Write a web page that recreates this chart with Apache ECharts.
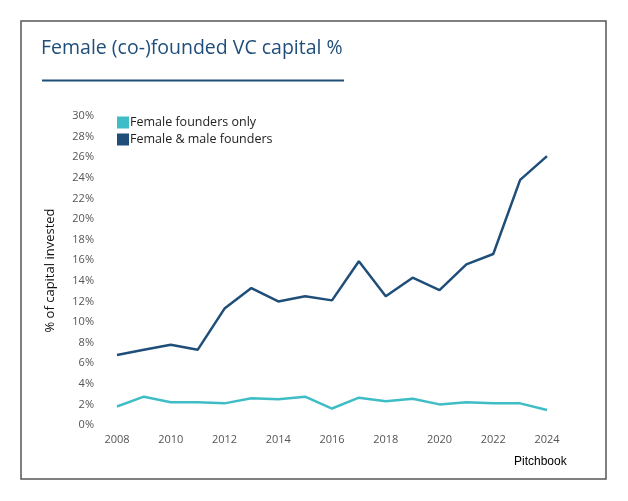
<!DOCTYPE html>
<html><head><meta charset="utf-8">
<script src="https://cdn.jsdelivr.net/npm/echarts@6/dist/echarts.min.js"></script>
<style>html,body{margin:0;padding:0;background:#fff}#c{width:628px;height:501px}</style>
</head><body><div id="c"></div>
<script>
var years = ['2008','2009','2010','2011','2012','2013','2014','2015','2016','2017','2018','2019','2020','2021','2022','2023','2024'];
var femaleOnly = [1.8,2.75,2.2,2.2,2.1,2.6,2.5,2.75,1.6,2.65,2.3,2.55,2.0,2.2,2.1,2.1,1.45];
var mixed = [6.8,7.3,7.8,7.3,11.3,13.3,12.0,12.5,12.1,15.9,12.5,14.3,13.1,15.6,16.6,23.8,26.1];
var yTicks = [0,30,2];
var chart = echarts.init(document.getElementById('c'));
var font = 'Open Sans';
chart.setOption({
  animation:false,
  title:{text:'Female (co-)founded VC capital %',left:36,top:33,textStyle:{fontFamily:font,fontSize:19.5,fontWeight:'normal',color:'#1f4e79'}},
  graphic:[
    {type:'rect',shape:{x:21,y:21,width:585,height:458},style:{fill:'none',stroke:'#555',lineWidth:1.5}},
    {type:'line',shape:{x1:42,y1:80.5,x2:344,y2:80.5},style:{stroke:'#1f4e79',lineWidth:2}},
    {type:'text',left:514,top:456,style:{text:'Pitchbook',font:'12px "Liberation Sans"',fill:'#000'}}
  ],
  legend:{left:112,top:111,orient:'vertical',itemWidth:12,itemHeight:12,itemGap:4,icon:'rect',
    textStyle:{fontFamily:font,fontSize:12.5,color:'#222',padding:[0,0,0,-4]},
    data:['Female founders only','Female & male founders']},
  grid:{left:117,right:81,top:116,bottom:76},
  xAxis:{type:'category',data:years,boundaryGap:false,axisLine:{show:false},axisTick:{show:false},
    axisLabel:{interval:1,fontFamily:font,fontSize:11,color:'#555',margin:9}},
  yAxis:{type:'value',min:yTicks[0],max:yTicks[1],interval:yTicks[2],splitLine:{show:false},
    axisLabel:{formatter:'{value}%',fontFamily:font,fontSize:11,color:'#555',margin:23},
    name:'% of capital invested',nameLocation:'middle',nameGap:60,nameRotate:90,
    nameTextStyle:{fontFamily:font,fontSize:13,color:'#111'}},
  series:[
    {name:'Female founders only',type:'line',data:femaleOnly,symbol:'none',lineStyle:{width:2.5,color:'#3fbdc6'},itemStyle:{color:'#3fbdc6'}},
    {name:'Female & male founders',type:'line',data:mixed,symbol:'none',lineStyle:{width:2.5,color:'#1f4e79'},itemStyle:{color:'#1f4e79'}}
  ]
});
</script></body></html>
